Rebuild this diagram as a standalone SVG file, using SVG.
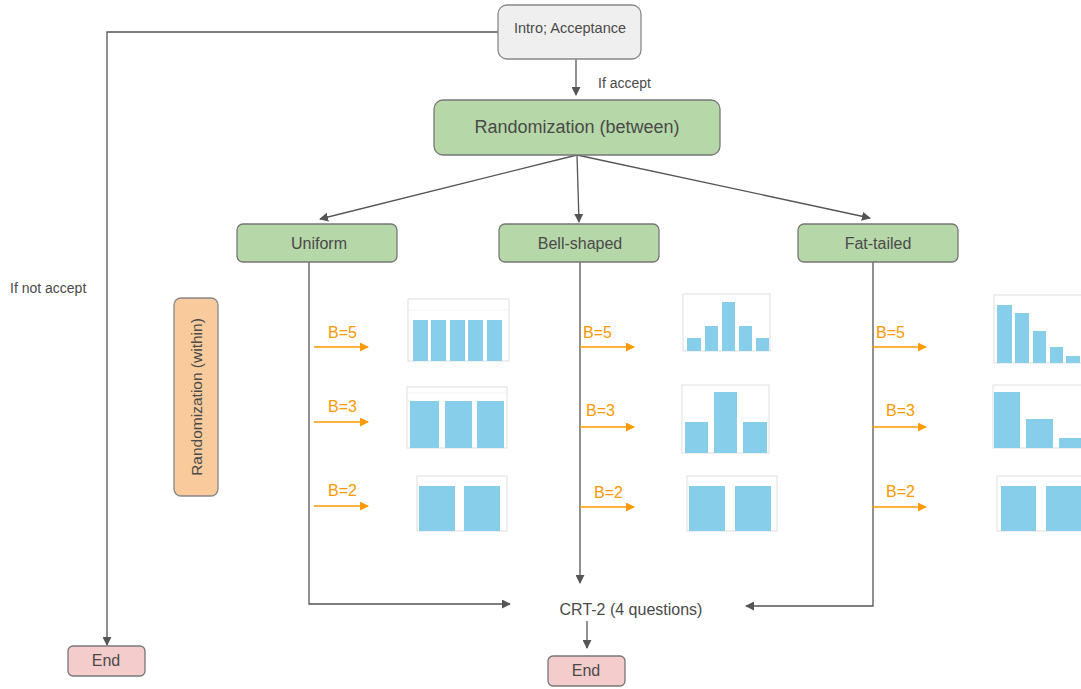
<svg xmlns="http://www.w3.org/2000/svg" width="1081" height="689" viewBox="0 0 1081 689">
<defs>
<marker id="ah" viewBox="0 0 10 10" refX="9" refY="5" markerWidth="9" markerHeight="9" markerUnits="userSpaceOnUse" orient="auto"><path d="M0,0 L10,5 L0,10 z" fill="#555"/></marker>
<marker id="oh" viewBox="0 0 10 10" refX="9" refY="5" markerWidth="9" markerHeight="9" markerUnits="userSpaceOnUse" orient="auto"><path d="M0,0 L10,5 L0,10 z" fill="#ff9900"/></marker>
<style>
text{font-family:"Liberation Sans",Arial,sans-serif;fill:#4a4a4a}
.con{fill:none;stroke:#555;stroke-width:1.3}
.oa{stroke:#ff9900;stroke-width:1.6;marker-end:url(#oh)}
.ol{fill:#ff9900;font-size:16px}
.green{fill:#b6d7a8;stroke:#777;stroke-width:1.3}
.pink{fill:#f4cccc;stroke:#777;stroke-width:1.3}
.plot{fill:#fff;stroke:#d6d6d6;stroke-width:0.8}
.bar{fill:#87ceeb}
.grid{stroke:#eee;stroke-width:0.7}
</style>
</defs>
<rect width="1081" height="689" fill="#fff"/>

<g id="connectors">
<path class="con" d="M576,59 V95" marker-end="url(#ah)"/>
<path class="con" d="M577,155 L320,219" marker-end="url(#ah)"/>
<path class="con" d="M577,155 L579,222" marker-end="url(#ah)"/>
<path class="con" d="M577,155 L870,218" marker-end="url(#ah)"/>
<path class="con" d="M498,32 H107 V645" marker-end="url(#ah)"/>
<path class="con" d="M309,262 V604 H510" marker-end="url(#ah)"/>
<path class="con" d="M580,262 V583" marker-end="url(#ah)"/>
<path class="con" d="M873,262 V606 H746" marker-end="url(#ah)"/>
<path class="con" d="M587,621 V648" marker-end="url(#ah)"/>
<line class="oa" x1="314" y1="347" x2="368" y2="347"/>
<line class="oa" x1="314" y1="422" x2="368" y2="422"/>
<line class="oa" x1="314" y1="506" x2="368" y2="506"/>
<line class="oa" x1="580" y1="347" x2="634" y2="347"/>
<line class="oa" x1="580" y1="427" x2="634" y2="427"/>
<line class="oa" x1="580" y1="507" x2="634" y2="507"/>
<line class="oa" x1="872" y1="347" x2="926" y2="347"/>
<line class="oa" x1="872" y1="427" x2="926" y2="427"/>
<line class="oa" x1="872" y1="507" x2="926" y2="507"/>
<text x="598" y="88" font-size="14">If accept</text>
<text x="10" y="293" font-size="14">If not accept</text>
<text class="ol" x="328" y="338">B=5</text>
<text class="ol" x="328" y="412">B=3</text>
<text class="ol" x="328" y="496">B=2</text>
<text class="ol" x="583" y="338">B=5</text>
<text class="ol" x="586" y="416">B=3</text>
<text class="ol" x="594" y="498">B=2</text>
<text class="ol" x="876" y="338">B=5</text>
<text class="ol" x="886" y="416">B=3</text>
<text class="ol" x="886" y="497">B=2</text>
</g>

<g id="intro">
<rect x="498" y="5" width="143" height="54" rx="9" fill="#efefef" stroke="#888" stroke-width="1.3"/>
<text x="570" y="33" font-size="14.5" text-anchor="middle">Intro; Acceptance</text>
</g>
<g id="rand-between">
<rect class="green" x="434" y="100" width="286" height="55" rx="9"/>
<text x="577" y="133" font-size="18" text-anchor="middle">Randomization (between)</text>
</g>
<g id="uniform">
<rect class="green" x="237" y="224" width="160" height="38" rx="6"/>
<text x="319" y="249" font-size="16" text-anchor="middle">Uniform</text>
</g>
<g id="bell">
<rect class="green" x="499" y="224" width="160" height="38" rx="6"/>
<text x="580" y="249" font-size="16" text-anchor="middle">Bell-shaped</text>
</g>
<g id="fat">
<rect class="green" x="798" y="224" width="160" height="38" rx="6"/>
<text x="878" y="249" font-size="16" text-anchor="middle">Fat-tailed</text>
</g>
<g id="rand-within">
<rect x="174" y="298" width="44" height="198" rx="7" fill="#f9cb9c" stroke="#888" stroke-width="1.3"/>
<text transform="translate(202,397) rotate(-90)" font-size="15.5" text-anchor="middle">Randomization (within)</text>
</g>
<g id="crt">
<text x="631" y="615" font-size="16" text-anchor="middle">CRT-2 (4 questions)</text>
</g>
<g id="end-left">
<rect class="pink" x="68" y="646" width="77" height="30" rx="5"/>
<text x="106" y="666" font-size="16" text-anchor="middle">End</text>
</g>
<g id="end-mid">
<rect class="pink" x="548" y="656" width="77" height="30" rx="5"/>
<text x="586" y="676" font-size="16" text-anchor="middle">End</text>
</g>

<g id="chart-u5">
<rect class="plot" x="408" y="299" width="101" height="62"/>
<line class="grid" x1="408" y1="310" x2="509" y2="310"/>
<rect class="bar" x="413" y="320" width="15" height="41"/>
<rect class="bar" x="431" y="320" width="15" height="41"/>
<rect class="bar" x="450" y="320" width="15" height="41"/>
<rect class="bar" x="468" y="320" width="15" height="41"/>
<rect class="bar" x="487" y="320" width="15" height="41"/>
</g>
<g id="chart-b5">
<rect class="plot" x="683" y="294" width="87" height="57"/>
<rect class="bar" x="687" y="338" width="14" height="13"/>
<rect class="bar" x="705" y="326" width="13" height="25"/>
<rect class="bar" x="722" y="302" width="13" height="49"/>
<rect class="bar" x="739" y="326" width="13" height="25"/>
<rect class="bar" x="756" y="338" width="13" height="13"/>
</g>
<g id="chart-f5">
<rect class="plot" x="994" y="295" width="100" height="68"/>
<rect class="bar" x="997" y="305" width="15" height="58"/>
<rect class="bar" x="1015" y="313" width="14" height="50"/>
<rect class="bar" x="1033" y="331" width="13" height="32"/>
<rect class="bar" x="1050" y="347" width="13" height="16"/>
<rect class="bar" x="1066" y="356" width="14" height="7"/>
</g>
<g id="chart-u3">
<rect class="plot" x="407" y="387" width="100" height="61"/>
<line class="grid" x1="407" y1="393" x2="507" y2="393"/>
<rect class="bar" x="410" y="401" width="29" height="47"/>
<rect class="bar" x="445" y="401" width="27" height="47"/>
<rect class="bar" x="477" y="401" width="27" height="47"/>
</g>
<g id="chart-b3">
<rect class="plot" x="682" y="385" width="87" height="68"/>
<rect class="bar" x="685" y="422" width="23" height="31"/>
<rect class="bar" x="714" y="392" width="23" height="61"/>
<rect class="bar" x="743" y="422" width="24" height="31"/>
</g>
<g id="chart-f3">
<rect class="plot" x="993" y="385" width="100" height="63"/>
<rect class="bar" x="994" y="392" width="26" height="56"/>
<rect class="bar" x="1026" y="419" width="27" height="29"/>
<rect class="bar" x="1059" y="438" width="24" height="10"/>
</g>
<g id="chart-u2">
<rect class="plot" x="417" y="476" width="90" height="55"/>
<rect class="bar" x="419" y="486" width="36" height="45"/>
<rect class="bar" x="464" y="486" width="36" height="45"/>
</g>
<g id="chart-b2">
<rect class="plot" x="687" y="476" width="90" height="55"/>
<rect class="bar" x="689" y="486" width="36" height="45"/>
<rect class="bar" x="735" y="486" width="36" height="45"/>
</g>
<g id="chart-f2">
<rect class="plot" x="997" y="476" width="90" height="55"/>
<rect class="bar" x="1001" y="486" width="35" height="45"/>
<rect class="bar" x="1046" y="486" width="36" height="45"/>
</g>
</svg>
